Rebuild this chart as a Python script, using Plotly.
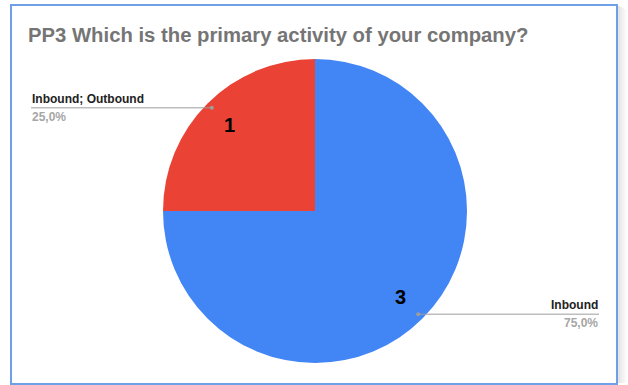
import math
import plotly.graph_objects as go

# Survey answers: primary activity of the company
labels = ["Inbound", "Inbound; Outbound"]
counts = [3, 1]
colors = ["#4285F4", "#EA4335"]
title_text = "PP3 Which is the primary activity of your company?"

W, H = 628, 385
CX, CY, R = 315, 211, 152  # pie centre and radius in pixels (top-left origin)


def px(x):
    return x / W


def py(y):
    return 1 - y / H


fig = go.Figure(
    go.Pie(
        labels=labels,
        values=counts,
        sort=False,
        direction="clockwise",
        rotation=0,
        marker=dict(colors=colors, line=dict(width=0)),
        textinfo="none",
        hoverinfo="label+value+percent",
        domain=dict(x=[px(CX - R), px(CX + R)], y=[py(CY + R), py(CY - R)]),
        showlegend=False,
    )
)

total = sum(counts)
shapes = []
annotations = []

# Frame around the chart card, with a soft shadow on the right
for i, c in enumerate(["#e4e4e4", "#ececec", "#f2f2f2", "#f7f7f7"]):
    shapes.append(dict(type="rect", xref="paper", yref="paper",
                       x0=px(618 + 2 * i), x1=px(620 + 2 * i), y0=py(383), y1=py(6 + i),
                       line=dict(width=0), fillcolor=c, layer="below"))
shapes.append(dict(type="rect", xref="paper", yref="paper",
                   x0=px(11), x1=px(617), y0=py(384), y1=py(5),
                   line=dict(color="#6f9fe4", width=2), fillcolor="rgba(0,0,0,0)"))

start = 0.0
for lab, val in zip(labels, counts):
    frac = val / total
    mid = (start + frac / 2) * 2 * math.pi  # clockwise from 12 o'clock
    start += frac
    sx, sy = math.sin(mid), -math.cos(mid)

    # count inside the slice
    annotations.append(dict(x=px(CX + 0.8 * R * sx), y=py(CY + 0.8 * R * sy),
                            xref="paper", yref="paper", showarrow=False,
                            xanchor="center", yanchor="middle",
                            text=f"<b>{val}</b>",
                            font=dict(family="Liberation Sans, Arial", size=20, color="#000000")))

    # leader line with dot and outside label
    dx, dy = CX + 0.96 * R * sx, CY + 0.96 * R * sy
    right = sx > 0
    ex = 599 if right else 31
    shapes.append(dict(type="line", xref="paper", yref="paper",
                       x0=px(dx), y0=py(dy), x1=px(ex), y1=py(dy),
                       line=dict(color="#9e9e9e", width=1)))
    shapes.append(dict(type="circle", xref="paper", yref="paper",
                       x0=px(dx - 2), x1=px(dx + 2), y0=py(dy - 2), y1=py(dy + 2),
                       line=dict(width=0), fillcolor="#9e9e9e"))
    anchor = "right" if right else "left"
    annotations.append(dict(x=px(ex), y=py(dy - 1), xref="paper", yref="paper",
                            xanchor=anchor, yanchor="bottom", showarrow=False,
                            text=f"<b>{lab}</b>", borderpad=0,
                            font=dict(family="Liberation Sans, Arial", size=12, color="#222222")))
    annotations.append(dict(x=px(ex), y=py(dy + 1), xref="paper", yref="paper",
                            xanchor=anchor, yanchor="top", showarrow=False,
                            text=f"<b>{frac * 100:.1f}%</b>".replace(".", ","), borderpad=0,
                            font=dict(family="Liberation Sans, Arial", size=12, color="#a6a6a6")))

annotations.append(dict(x=px(26), y=py(35), xref="paper", yref="paper",
                        xanchor="left", yanchor="middle", showarrow=False,
                        text=f"<b>{title_text}</b>",
                        font=dict(family="Liberation Sans, Arial", size=20.3, color="#757575")))

fig.update_layout(
    width=W, height=H,
    margin=dict(l=0, r=0, t=0, b=0),
    paper_bgcolor="white", plot_bgcolor="white",
    shapes=shapes, annotations=annotations,
)

fig.write_html("out.html")
